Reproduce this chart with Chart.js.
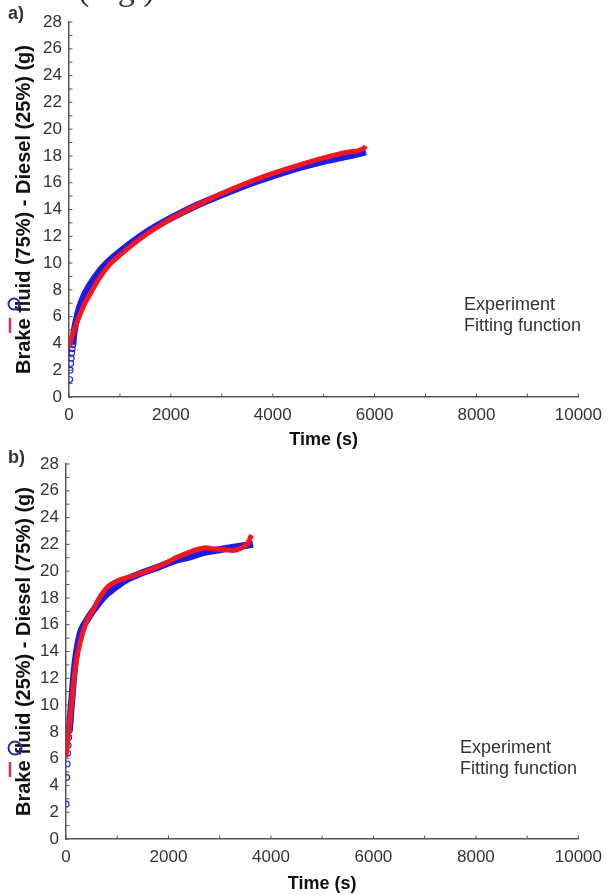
<!DOCTYPE html>
<html>
<head>
<meta charset="utf-8">
<script src="https://cdn.jsdelivr.net/npm/chart.js@4.4.1/dist/chart.umd.min.js"></script>
<style>
body{margin:0;background:#fff;width:610px;height:895px;position:relative;overflow:hidden;}
.box{position:absolute;left:0;width:610px;height:455px;}
</style>
</head>
<body>
<div class="box" style="top:0"><canvas id="chartA"></canvas></div>
<div class="box" style="top:440px"><canvas id="chartB"></canvas></div>
<script>
// tick labels
const xLabelValues = [0, 2000, 4000, 6000, 8000, 10000];
const yLabelValues = [0, 2, 4, 6, 8, 10, 12, 14, 16, 18, 20, 22, 24, 26, 28];

// a) Brake fluid 75% - Diesel 25%
const expTimeA = [15, 25, 35, 45, 55, 65, 75, 90, 120, 160, 200, 300, 400, 600, 800, 1000, 1500, 2000, 2500, 3000, 3500, 4000, 4500, 5000, 5500, 5830];
const expMassA = [1.3, 2.0, 2.5, 2.9, 3.3, 3.6, 3.9, 4.6, 5.3, 6.0, 6.6, 7.6, 8.3, 9.4, 10.2, 10.85, 12.25, 13.35, 14.3, 15.1, 15.85, 16.5, 17.1, 17.6, 18.0, 18.3];
const fitTimeA = [0, 50, 100, 200, 300, 400, 600, 800, 1000, 1500, 2000, 2500, 3000, 3500, 4000, 4500, 5000, 5500, 5800, 5820];
const fitMassA = [3.7, 4.4, 5.0, 6.0, 6.9, 7.6, 8.9, 9.9, 10.6, 12.1, 13.3, 14.3, 15.2, 16.0, 16.7, 17.3, 17.85, 18.3, 18.6, 18.75];

// b) Brake fluid 25% - Diesel 75%
const expTimeB = [5, 15, 25, 35, 45, 55, 65, 80, 100, 120, 140, 170, 200, 250, 300, 400, 500, 600, 700, 800, 900, 1000, 1200, 1500, 1800, 2100, 2400, 2700, 3000, 3300, 3650];
const expMassB = [2.6, 4.6, 5.6, 6.4, 7.0, 7.6, 8.1, 8.8, 9.8, 10.7, 11.7, 12.9, 13.8, 14.9, 15.6, 16.3, 16.9, 17.4, 17.9, 18.3, 18.6, 18.9, 19.4, 19.9, 20.3, 20.75, 21.05, 21.4, 21.6, 21.8, 22.0];
const fitTimeB = [0, 40, 77, 110, 142, 175, 206, 271, 368, 450, 529, 620, 723, 820, 916, 1050, 1174, 1350, 1500, 1650, 1819, 2000, 2142, 2300, 2465, 2600, 2723, 2900, 3100, 3250, 3400, 3550, 3620];
const fitMassB = [6.1, 7.6, 8.9, 10.2, 11.4, 12.5, 13.4, 14.6, 15.9, 16.6, 17.1, 17.8, 18.4, 18.85, 19.1, 19.35, 19.5, 19.7, 19.9, 20.1, 20.4, 20.7, 21.0, 21.25, 21.5, 21.65, 21.75, 21.65, 21.6, 21.55, 21.7, 22.1, 22.7];

const BLUE = 'rgb(28,28,228)';
const RED = 'rgb(244,22,32)';
const AXIS = '#555';
const TEXT = '#333';
const FONT = "'Liberation Sans', Arial, sans-serif";

function pts(xs, ys) {
    return xs.map((x, i) => ({x: x, y: ys[i]}));
}

// ticks pointing into the plot
const inwardTicks = {
    id: 'inwardTicks',
    afterDraw(chart) {
        const ctx = chart.ctx;
        const area = chart.chartArea;
        const xs = chart.scales.x, ys = chart.scales.y;
        ctx.save();
        ctx.strokeStyle = AXIS;
        ctx.lineWidth = 1;
        xs.ticks.forEach(t => {
            const px = xs.getPixelForValue(t.value);
            ctx.beginPath();
            ctx.moveTo(px, area.bottom);
            ctx.lineTo(px, area.bottom - 3.5);
            ctx.stroke();
        });
        ys.ticks.forEach(t => {
            const py = ys.getPixelForValue(t.value);
            ctx.beginPath();
            ctx.moveTo(area.left, py);
            ctx.lineTo(area.left + 3.5, py);
            ctx.stroke();
        });
        ctx.restore();
    }
};

// panel letter, stray caption bit and the (misplaced) legend
const figNotes = {
    id: 'figNotes',
    afterDraw(chart, args, o) {
        const ctx = chart.ctx;
        ctx.save();
        ctx.fillStyle = TEXT;
        ctx.textBaseline = 'middle';
        ctx.font = 'bold 18px ' + FONT;
        ctx.fillText(o.letter, o.letterX, o.letterY);
        if (o.caption) {
            ctx.font = "34px 'Liberation Serif', serif";
            ctx.textBaseline = 'alphabetic';
            ctx.fillText(o.caption, 78, 0);
            ctx.textBaseline = 'middle';
        }
        ctx.font = '18px ' + FONT;
        ctx.fillText('Experiment', o.legX, o.legY);
        ctx.fillText('Fitting function', o.legX, o.legY + 21);
        // markers
        ctx.strokeStyle = 'rgb(40,40,170)';
        ctx.lineWidth = 2;
        ctx.beginPath();
        ctx.arc(o.circX, o.circY, o.circR, 0, 2 * Math.PI);
        ctx.stroke();
        ctx.strokeStyle = 'rgb(215,45,100)';
        ctx.lineWidth = 2.5;
        ctx.beginPath();
        ctx.moveTo(10, o.barY);
        ctx.lineTo(10, o.barY + 15);
        ctx.stroke();
        ctx.restore();
    }
};

function makeChart(id, expData, fitData, nSparse, yTitle, geo, notes) {
    const canvas = document.getElementById(id);
    const ctx = canvas.getContext('2d');
    return new Chart(ctx, {
        type: 'scatter',
        data: {
            datasets: [{
                label: 'Fitting function',
                data: fitData,
                showLine: true,
                borderColor: RED,
                borderWidth: 5,
                pointRadius: 0,
                cubicInterpolationMode: 'monotone',
                order: 0
            }, {
                label: 'Experiment',
                data: expData,
                showLine: true,
                borderColor: BLUE,
                borderWidth: 7,
                pointRadius: c => c.dataIndex < nSparse ? 2.8 : 0,
                pointBorderColor: BLUE,
                pointBackgroundColor: 'rgba(255,255,255,0)',
                pointBorderWidth: 1.1,
                cubicInterpolationMode: 'monotone',
                segment: {
                    borderColor: c => c.p1DataIndex < nSparse ? 'rgba(0,0,0,0)' : BLUE
                },
                order: 1
            }]
        },
        options: {
            responsive: true,
            maintainAspectRatio: false,
            animation: false,
            layout: {padding: {left: 0, right: 27, top: geo.top, bottom: 0}},
            plugins: {
                legend: {display: false},
                tooltip: {enabled: false},
                figNotes: notes
            },
            scales: {
                x: {
                    type: 'linear',
                    min: 0, max: 10000,
                    afterFit: s => { s.height = geo.xh; },
                    grid: {display: false, drawTicks: false},
                    border: {display: true, color: AXIS, width: 1.5},
                    ticks: {
                        stepSize: 1000,
                        autoSkip: false,
                        maxRotation: 0,
                        padding: 8,
                        color: TEXT,
                        font: {family: FONT, size: 17},
                        callback: v => xLabelValues.includes(v) ? String(v) : ''
                    },
                    title: {
                        display: true,
                        text: 'Time (s)',
                        color: '#111',
                        font: {family: FONT, size: 18, weight: 'bold'},
                        padding: {top: 0, bottom: geo.xtPad}
                    }
                },
                y: {
                    type: 'linear',
                    min: 0, max: 28,
                    afterFit: s => { s.width = geo.left; },
                    grid: {display: false, drawTicks: false},
                    border: {display: true, color: AXIS, width: 1.5},
                    ticks: {
                        stepSize: 1,
                        autoSkip: false,
                        padding: 7,
                        color: TEXT,
                        font: {family: FONT, size: 17},
                        callback: v => yLabelValues.includes(v) ? String(v) : ''
                    },
                    title: {
                        display: true,
                        text: yTitle,
                        color: '#111',
                        font: {family: FONT, size: 20, weight: 'bold'},
                        padding: {top: 12, bottom: 0}
                    }
                }
            }
        },
        plugins: [inwardTicks, figNotes]
    });
}

makeChart('chartA', pts(expTimeA, expMassA), pts(fitTimeA, fitMassA), 7,
    'Brake fluid (75%) - Diesel (25%) (g)',
    {top: 22, xh: 58, left: 69, xtPad: 4},
    {letter: 'a)', letterX: 8, letterY: 14, caption: '(Fig.)',
     legX: 464, legY: 305, circX: 14, circY: 304, circR: 5.5, barY: 318});

makeChart('chartB', pts(expTimeB, expMassB), pts(fitTimeB, fitMassB), 7,
    'Brake fluid (25%) - Diesel (75%) (g)',
    {top: 24, xh: 56, left: 66, xtPad: 0},
    {letter: 'b)', letterX: 8, letterY: 18, caption: null,
     legX: 460, legY: 308, circX: 15, circY: 308, circR: 6.5, barY: 322});
</script>
</body>
</html>
